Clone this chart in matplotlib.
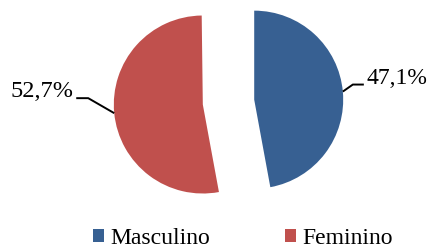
import numpy as np
import matplotlib
matplotlib.use("Agg")
import matplotlib.pyplot as plt
from matplotlib.patches import Patch

# Data
categories = ["Masculino", "Feminino"]
values = [47.1, 52.7]
labels = ["47,1%", "52,7%"]
colors = ["#376092", "#C0504D"]

plt.rcParams["font.family"] = ["Liberation Serif", "DejaVu Serif"]

W, H, DPI = 433, 249, 100
PX = 89.0  # pixels per unit radius
cx, cy = 228.5, 102.0  # pie centre in pixels (from top-left)

fig = plt.figure(figsize=(W / DPI, H / DPI), dpi=DPI)
ax = fig.add_axes([0, 0, 1, 1])

fracs = [v / 100 for v in values]
wedges, _ = ax.pie(fracs, colors=colors, startangle=90, counterclock=False,
                   explode=[0.29, 0.29], normalize=False, radius=1.0,
                   wedgeprops=dict(linewidth=0))

# pie() resets the limits, so set them afterwards
ax.set_xlim(-cx / PX, (W - cx) / PX)
ax.set_ylim(-(H - cy) / PX, cy / PX)
ax.set_aspect("equal")
ax.axis("off")

# leader lines: (elbow offset px, horizontal length px, text side)
leaders = [((10, -7), 11, "left"), ((-26, -15), -12, "right")]
for w, lab, (elb, hl, side) in zip(wedges, labels, leaders):
    mid = np.deg2rad((w.theta1 + w.theta2) / 2)
    x0 = w.center[0] + w.r * np.cos(mid)
    y0 = w.center[1] + w.r * np.sin(mid)
    x1 = x0 + elb[0] / PX
    y1 = y0 - elb[1] / PX
    x2 = x1 + hl / PX
    ax.plot([x0, x1, x2], [y0, y1, y1], color="black", lw=1.4,
            solid_capstyle="butt")
    if side == "left":
        ax.text(x2 + 3 / PX, y1 + 6 / PX, lab, ha="left", va="center",
                fontsize=17)
    else:
        ax.text(x2 - 3 / PX, y1 + 7 / PX, lab, ha="right", va="center",
                fontsize=17.5)

handles = [Patch(facecolor=c, edgecolor="none") for c in colors]
fig.legend(handles, categories, loc="center left",
           bbox_to_anchor=(93 / W, 1 - 238 / H), ncol=2, frameon=False,
           fontsize=17, handlelength=0.47, handleheight=0.47,
           handletextpad=0.25, columnspacing=3.2, borderpad=0,
           borderaxespad=0)

fig.savefig("out.png", dpi=DPI)
